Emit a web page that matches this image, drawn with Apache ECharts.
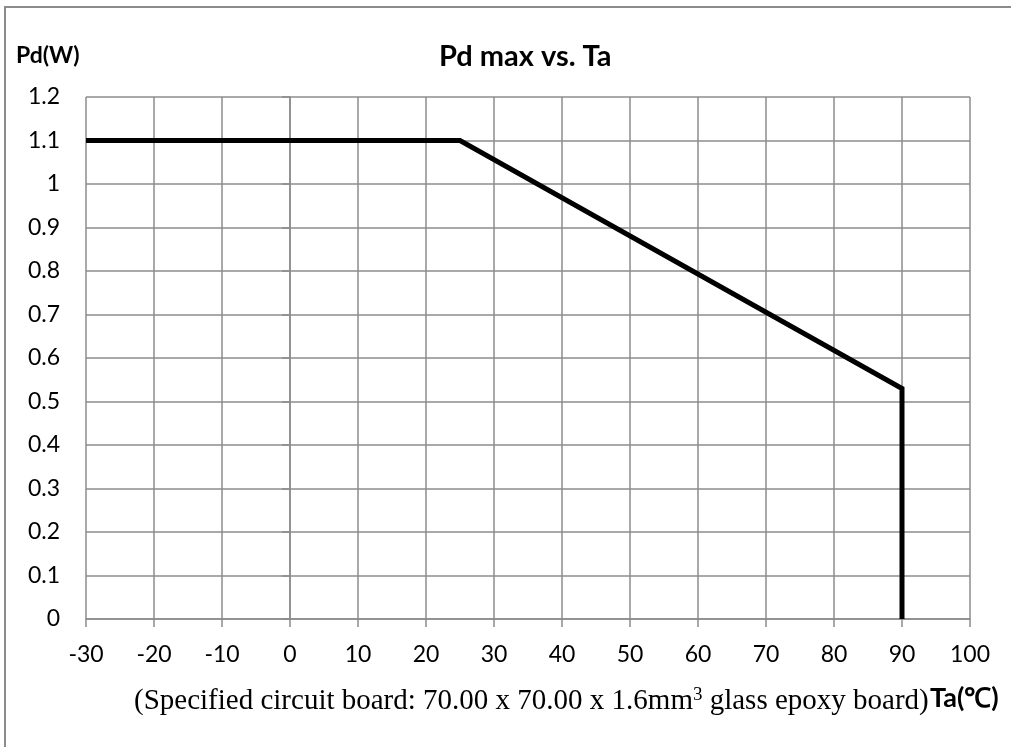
<!DOCTYPE html>
<html><head><meta charset="utf-8">
<script src="https://cdn.jsdelivr.net/npm/echarts@6/dist/echarts.min.js"></script>
<style>html,body{margin:0;padding:0;background:#fff}#c{width:1011px;height:747px}</style>
</head><body><div id="c"></div>
<script>
const taValues = [-30, 25, 90, 90];
const pdValues = [1.1, 1.1, 0.53, 0];
const xTicks = { min: -30, max: 100, interval: 10 };
const yTicks = { min: 0, max: 1.2, interval: 0.1 };
const titleText = 'Pd max vs. Ta';
const yName = 'Pd(W)';
const xName = 'Ta(\u2103)';
const footnote = '(Specified circuit board: 70.00 x 70.00 x 1.6mm{sup|3} glass epoxy board)';

const chart = echarts.init(document.getElementById('c'), null, {renderer: 'canvas'});
const font = 'Lato, "Open Sans", sans-serif';
const grey = '#8c8c8c';
chart.setOption({
  animation: false,
  backgroundColor: '#fff',
  title: { text: titleText, left: 434, top: 37, textStyle: { fontFamily: font, fontWeight: 'bold', fontSize: 29, color: '#000' } },
  grid: { left: 86, top: 97, right: 41, bottom: 128, containLabel: false },
  xAxis: {
    type: 'value', min: xTicks.min, max: xTicks.max, interval: xTicks.interval,
    axisLine: { show: true, lineStyle: { color: grey, width: 1.5 } },
    axisTick: { show: true, length: 8, lineStyle: { color: grey, width: 1.5 } },
    axisLabel: { color: '#000', fontFamily: font, fontSize: 23, margin: 24 },
    splitLine: { show: true, lineStyle: { color: grey, width: 1.5 } }
  },
  yAxis: {
    type: 'value', min: yTicks.min, max: yTicks.max, interval: yTicks.interval,
    axisLine: { show: true, lineStyle: { color: grey, width: 1.5 } },
    axisTick: { show: true, length: 8, lineStyle: { color: grey, width: 1.5 } },
    axisLabel: { color: '#000', fontFamily: font, fontSize: 23, margin: 26, formatter: v => String(Math.round(v*10)/10) },
    splitLine: { show: true, lineStyle: { color: grey, width: 1.5 } }
  },
  series: [{
    type: 'line', data: taValues.map((t, i) => [t, pdValues[i]]),
    showSymbol: false, symbol: 'none',
    lineStyle: { color: '#000', width: 5, join: 'miter' }
  }],
  graphic: [
    { type: 'rect', shape: { x: 5, y: 7, width: 1020, height: 760 }, style: { fill: 'none', stroke: '#8c8c8c', lineWidth: 2 }, z: -1 },
    { type: 'text', left: 16, top: 44, style: { text: yName, font: 'bold 23px ' + font, fill: '#000' } },
    { type: 'text', left: 134, top: 686, style: { text: footnote, font: '29px "Liberation Serif", "Times New Roman", serif', fill: '#000',
        rich: { sup: { fontSize: 19, verticalAlign: 'top', padding: [0,0,12,0], fontFamily: '"Liberation Serif", serif' } } } },
    { type: 'text', left: 930, top: 685, style: { text: xName, font: 'bold 27px ' + font, fill: '#000' } }
  ]
});
</script></body></html>
